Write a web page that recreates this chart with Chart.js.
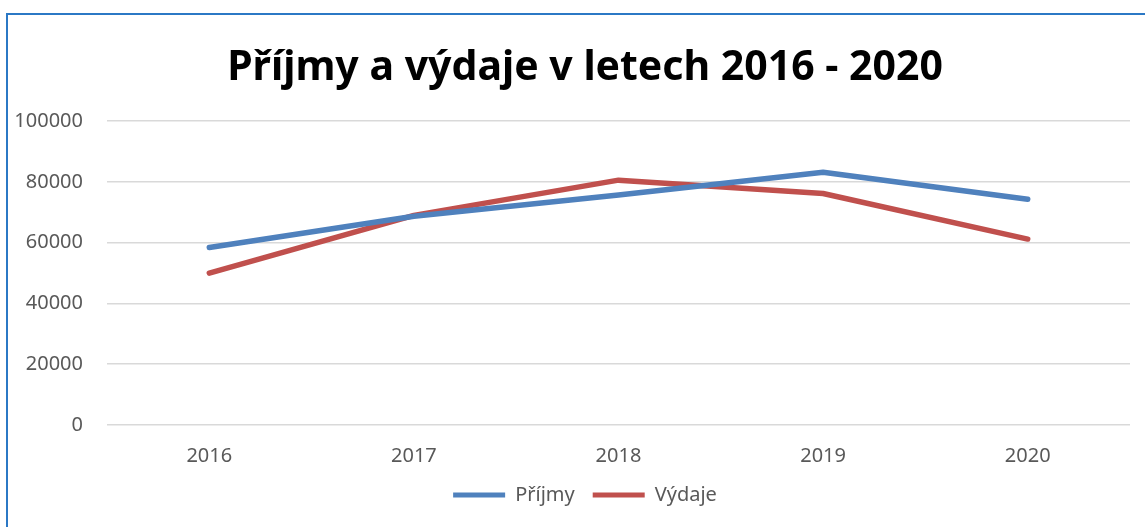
<!DOCTYPE html>
<html lang="cs">
<head>
<meta charset="utf-8">
<title>Příjmy a výdaje v letech 2016 - 2020</title>
<script src="https://cdn.jsdelivr.net/npm/chart.js@4/dist/chart.umd.min.js"></script>
<style>
    html, body { margin: 0; padding: 0; background: #fff; overflow: hidden; }
    #wrap { position: relative; width: 1145px; height: 527px; }
    #ramecek {
        position: absolute; left: 6px; top: 13px; width: 1200px; height: 600px;
        border-top: 2px solid #2b78c5; border-left: 2px solid #2b78c5;
        pointer-events: none;
    }
    canvas { position: absolute; left: 0; top: 0; }
</style>
</head>
<body>
<div id="wrap">
    <canvas id="graf" width="1145" height="527"></canvas>
    <div id="ramecek"></div>
</div>
<script>
// Data grafu
const roky = ['2016', '2017', '2018', '2019', '2020'];
const prijmy = [58400, 68700, 75700, 83200, 74300];
const vydaje = [50000, 69000, 80600, 76200, 61200];

const MODRA = '#4f81bd';
const CERVENA = '#c0504d';
const SEDA_TEXT = '#595959';
const PISMO = "'Noto Sans', sans-serif";

document.addEventListener('DOMContentLoaded', function() {
    initGraf();
});

// Titulek a legenda jsou v originále vystředěné na celou plochu rámečku,
// ne jen na oblast grafu -> posuneme je trochu doprava
const posunNadpisu = {
    id: 'posunNadpisu',
    afterLayout: function(chart) {
        const posun = 20;
        [chart.titleBlock, chart.legend].forEach(blok => {
            if (!blok) return;
            blok.left += posun;
            blok.right += posun;
        });
    }
};

/**
 * Vykreslí spojnicový graf příjmů a výdajů
 */
function initGraf() {
    const ctx = document.getElementById('graf').getContext('2d');

    const serie = (nazev, data, barva) => ({
        label: nazev,
        data: data,
        borderColor: barva,
        backgroundColor: barva,
        borderWidth: 5.5,
        borderCapStyle: 'round',
        borderJoinStyle: 'round',
        pointRadius: 0,
        tension: 0
    });

    new Chart(ctx, {
        type: 'line',
        data: {
            labels: roky,
            datasets: [
                serie('Příjmy', prijmy, MODRA),
                serie('Výdaje', vydaje, CERVENA)
            ]
        },
        plugins: [posunNadpisu],
        options: {
            responsive: false,
            animation: false,
            layout: {
                padding: { left: 0, right: 15, top: 0, bottom: 12 }
            },
            plugins: {
                title: {
                    display: true,
                    text: 'Příjmy a výdaje v letech 2016 - 2020',
                    color: '#000',
                    font: { family: PISMO, size: 41, weight: 'bold', lineHeight: 1.2 },
                    padding: { top: 44, bottom: 28 }
                },
                legend: {
                    display: true,
                    position: 'bottom',
                    labels: {
                        color: SEDA_TEXT,
                        boxWidth: 52,
                        boxHeight: 5,
                        padding: 18,
                        font: { family: PISMO, size: 20 },
                        generateLabels: function(chart) {
                            const items = Chart.defaults.plugins.legend.labels.generateLabels(chart);
                            items.forEach(it => { it.lineWidth = 0; });
                            return items;
                        }
                    }
                },
                tooltip: { enabled: false }
            },
            scales: {
                x: {
                    offset: true,
                    grid: { display: false, drawTicks: false },
                    border: { display: false },
                    ticks: {
                        color: SEDA_TEXT,
                        padding: 19,
                        font: { family: PISMO, size: 20 }
                    },
                    afterFit: function(scale) { scale.height = 42; }
                },
                y: {
                    min: 0,
                    max: 100000,
                    grid: { color: '#d9d9d9', lineWidth: 1.5, drawTicks: false },
                    border: { display: false },
                    ticks: {
                        stepSize: 20000,
                        color: SEDA_TEXT,
                        padding: 24,
                        font: { family: PISMO, size: 20 },
                        callback: function(value) { return String(value); }
                    },
                    afterFit: function(scale) { scale.width = 107; }
                }
            }
        }
    });
}
</script>
</body>
</html>
